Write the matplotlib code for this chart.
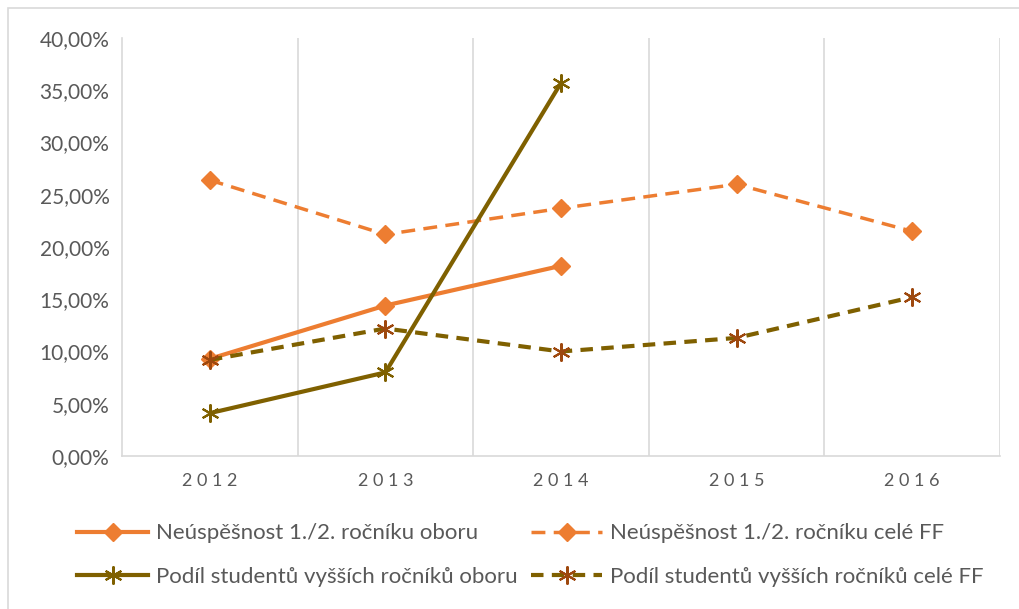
import matplotlib.pyplot as plt
from matplotlib.ticker import FuncFormatter

plt.rcParams['font.family'] = ['Lato', 'DejaVu Sans']

years = ['2012', '2013', '2014', '2015', '2016']
neusp_obor = [9.3, 14.4, 18.2]
neusp_ff = [26.4, 21.2, 23.7, 26.0, 21.5]
podil_obor = [4.1, 8.0, 35.7]
podil_ff = [9.2, 12.2, 10.0, 11.3, 15.2]

orange = '#ED7D31'
olive = '#7F6000'
brown = '#9E480E'
grey_txt = '#595959'

fig = plt.figure(figsize=(10.19, 6.09), dpi=100)
ax = fig.add_axes([122 / 1019, (609 - 456) / 609, 878 / 1019, 418 / 609])

x = list(range(len(years)))
l1, = ax.plot(x[:3], neusp_obor, color=orange, lw=3, marker='D', ms=9,
              mec=orange, mfc=orange, label='Neúspěšnost 1./2. ročníku oboru')
l2, = ax.plot(x, neusp_ff, color=orange, lw=2.5, ls=(0, (4, 2.4)), marker='D', ms=9,
              mec=orange, mfc=orange, label='Neúspěšnost 1./2. ročníku celé FF')
l3, = ax.plot(x[:3], podil_obor, color=olive, lw=3, marker=(6, 2, 0), ms=13, mew=1.5,
              mec=olive, label='Podíl studentů vyšších ročníků oboru')
l4, = ax.plot(x, podil_ff, color=olive, lw=3, ls=(0, (3, 2)), marker=(6, 2, 0), ms=13,
              mew=1.5, mec=brown, label='Podíl studentů vyšších ročníků celé FF')

ax.set_xlim(-0.5, len(years) - 0.5)
ax.set_ylim(0, 40)
ax.set_yticks(range(0, 41, 5))
ax.yaxis.set_major_formatter(FuncFormatter(lambda v, p: f'{v:.2f}%'.replace('.', ',')))
ax.set_xticks(x)
ax.set_xticklabels([' '.join(y) for y in years])
ax.set_xticks([i + 0.5 for i in x], minor=True)
ax.grid(True, which='minor', axis='x', color='#D9D9D9', lw=1.2)
ax.tick_params(which='both', length=0, colors=grey_txt)
ax.tick_params(axis='x', labelsize=13, pad=12)
ax.tick_params(axis='y', labelsize=15, pad=9)

for s in ['top', 'right']:
    ax.spines[s].set_visible(False)
for s in ['left', 'bottom']:
    ax.spines[s].set_color('#D9D9D9')
    ax.spines[s].set_linewidth(1.2)

handles = [l1, l3, l2, l4]
leg = fig.legend(handles, [h.get_label() for h in handles], loc='center left',
                 bbox_to_anchor=(66 / 1019, (609 - 555) / 609), ncol=2,
                 frameon=False, fontsize=16, handlelength=3.2, columnspacing=0.6,
                 labelspacing=1.05, handletextpad=0.35, borderpad=0.0)
for t in leg.get_texts():
    t.set_color(grey_txt)

fig.patches.append(plt.Rectangle((8 / 1019, -0.01), 1.0, 1.0 - 8 / 609 + 0.01,
                                 transform=fig.transFigure, fill=False,
                                 ec='#D9D9D9', lw=1.2))

fig.savefig('out.png', dpi=100)
